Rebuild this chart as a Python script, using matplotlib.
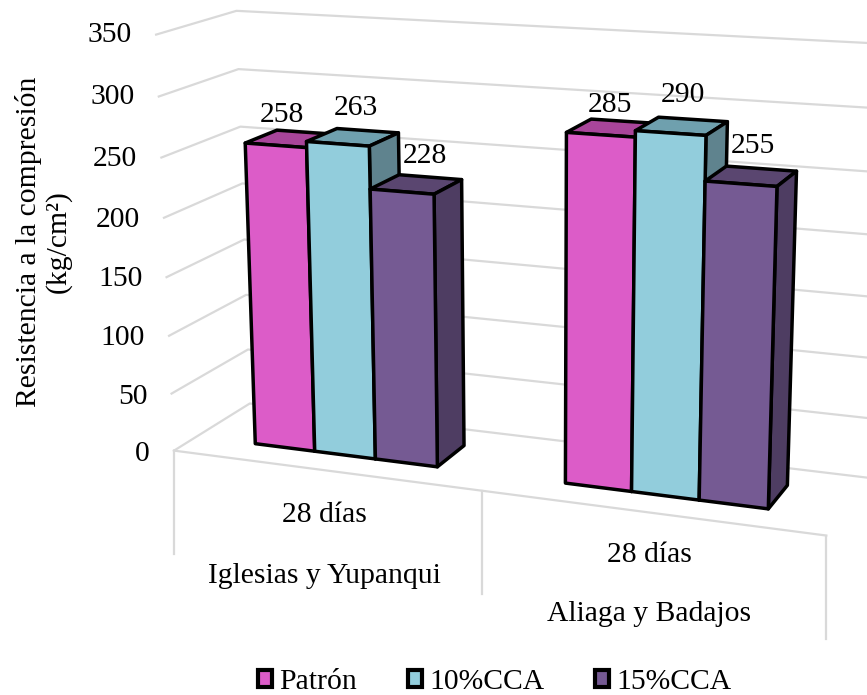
import matplotlib
matplotlib.use('Agg')
import matplotlib.pyplot as plt
from matplotlib.patches import Polygon, Patch
import numpy as np

groups = ['Iglesias y Yupanqui', 'Aliaga y Badajos']
sub_labels = ['28 días', '28 días']
series = ['Patrón', '10%CCA', '15%CCA']
patron = [258, 285]
cca10 = [263, 290]
cca15 = [228, 255]
yticks = [0, 50, 100, 150, 200, 250, 300, 350]

front_cols = ['#DC5CC8', '#92CDDC', '#755A93']
top_cols = ['#A8459A', '#6FA0AE', '#5A4670']
side_cols = ['#A8459A', '#5F838E', '#4E3D62']
grid_col = '#D9D9D9'
font_size = 21.3

# floor reaches this far in front of and behind the bars, in bar depths
a = 0.7
bar_step = 5

# perspective camera: (x/10, value/100, depth, 1) -> pixel/100
cam = np.array([
  [0.72267199, -0.00918168, 0.04860572, 0.32848574],
  [0.03696915, -0.15236186, -0.01170242, 0.57090135],
  [-0.01334279, -0.00169782, 0.00331616, 0.12867572],
])


def project(x, v, d):
  h = cam @ np.array([x/10, v/100, d, 1.0])
  return 100*h[0]/h[2], 100*h[1]/h[2]


def draw_bar(ax, x0, value, k):
  x1 = x0 + 1
  faces = [
    ([(x0, value, 0), (x0, value, 1), (x1, value, 1), (x1, value, 0)], top_cols[k]),
    ([(x1, 0, 0), (x1, 0, 1), (x1, value, 1), (x1, value, 0)], side_cols[k]),
    ([(x0, 0, 0), (x1, 0, 0), (x1, value, 0), (x0, value, 0)], front_cols[k]),
  ]
  for pts, col in faces:
    ax.add_patch(Polygon([project(*p) for p in pts], closed=True, facecolor=col,
                         edgecolor='black', linewidth=2.5, joinstyle='round', zorder=3))


def driver():
  plt.rcParams['font.family'] = ['Liberation Serif']
  fig = plt.figure(figsize=(8.67, 6.95), dpi=100)
  ax = fig.add_axes([0, 0, 1, 1])
  ax.set_xlim(0, 867)
  ax.set_ylim(695, 0)
  ax.axis('off')

  # walls and floor
  for v in yticks:
    pts = [project(-1, v, -a), project(-1, v, 1+a), project(9, v, 1+a)]
    ax.plot(*zip(*pts), color=grid_col, lw=1.6, zorder=1)
    tx, ty = pts[0]
    ax.text(tx-24, ty+3.5-v*0.0086, str(v), ha='right', va='center', fontsize=font_size)
  ax.plot(*zip(project(-1, 0, -a), project(9, 0, -a)), color=grid_col, lw=1.6, zorder=1)

  # category separators hang straight down from the floor edge
  for x in [-1, 4, 9]:
    px, py = project(x, 0, -a)
    ax.plot([px, px], [py, py+103], color=grid_col, lw=1.6, zorder=1)

  label_shift = [[(-10, -24), (3, -29), (9, -28)], [(-3, -23), (1, -31), (2, -30)]]
  cat_shift = [(45, 106), (42, 101)]
  for g in range(2):
    vals = [patron[g], cca10[g], cca15[g]]
    for k, v in enumerate(vals):
      draw_bar(ax, g*bar_step + k, v, k)
    for k, v in enumerate(vals):
      px, py = project(g*bar_step + k + 0.5, v, 0.5)
      dx, dy = label_shift[g][k]
      ax.text(px+dx, py+dy, str(v), ha='center', va='center', fontsize=font_size, zorder=4)
    px, py = project(g*bar_step + 1.5, 0, -a)
    ax.text(px, py+cat_shift[g][0], sub_labels[g], ha='center', va='center', fontsize=font_size)
    ax.text(px, py+cat_shift[g][1], groups[g], ha='center', va='center', fontsize=font_size)

  ax.text(43.5, 242, 'Resistencia a la compresión\n(kg/cm²)', rotation=90, ha='center',
          va='center', fontsize=font_size, linespacing=1.15, multialignment='center')

  handles = [Patch(facecolor=c, edgecolor='black', linewidth=3) for c in front_cols]
  ax.legend(handles, series, ncol=3, frameon=False, fontsize=font_size, loc='center',
            bbox_to_anchor=(495/867, 1-682/695), handlelength=0.46, handleheight=0.46,
            handletextpad=0.26, columnspacing=1.72, borderpad=0, borderaxespad=0)

  fig.savefig('out.png', dpi=100)


if __name__ == '__main__':
  driver()
